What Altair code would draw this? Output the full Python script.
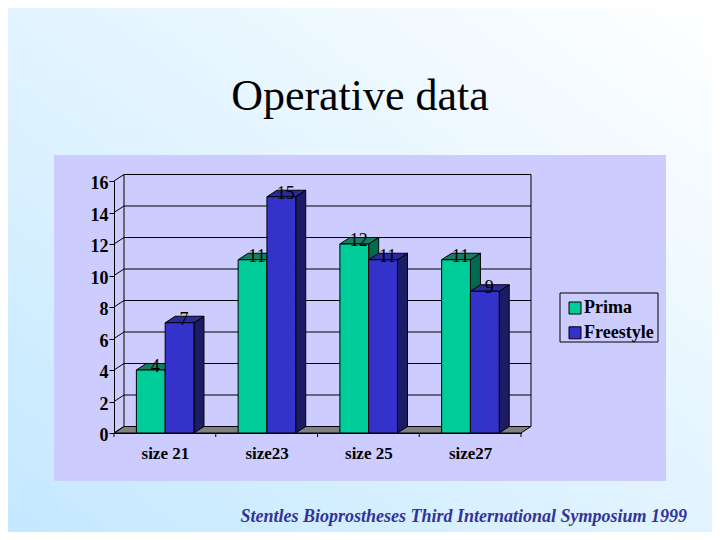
import altair as alt
import pandas as pd

categories = ["size 21", "size23", "size 25", "size27"]
prima = [4, 11, 12, 11]
freestyle = [7, 15, 11, 9]
series_names = ["Prima", "Freestyle"]
series_colors = ["#00CC99", "#3333CC"]
side_colors = {"Prima": "#006B50", "Freestyle": "#1C1C66"}
top_colors = {"Prima": "#128060", "Freestyle": "#2A2A99"}
y_ticks = [0, 2, 4, 6, 8, 10, 12, 14, 16]
x_edges = [0, 1, 2, 3, 4]
title_text = ["Operative data"]
footer_text = ["Stentles Bioprostheses Third International Symposium 1999"]

W, H = 407, 252
UX, UY = W / 4, H / 16          # pixels per data unit
DX, DY = 10 / UX, 6.5 / UY      # depth of the 3D effect in data units
BW = 28.8 / UX
SERIF = "Liberation Serif"

X = alt.Scale(domain=[0, 4], range=[0, W])
Y = alt.Scale(domain=[0, 16], range=[H, 0])
x_axis = alt.Axis(values=[0.5, 1.5, 2.5, 3.5], title=None, ticks=False, grid=False,
                  labelExpr="['size 21','size23','size 25','size27'][floor(datum.value)]",
                  labelFont=SERIF, labelFontSize=17, labelFontWeight="bold", labelColor="black",
                  labelPadding=12, labelAngle=0, domainColor="black", domainWidth=1, zindex=1)
y_axis = alt.Axis(values=y_ticks, title=None, grid=False, tickColor="black", tickSize=5, tickWidth=1,
                  labelFont=SERIF, labelFontSize=18, labelFontWeight="bold", labelColor="black",
                  labelPadding=1, labelOffset=2.5, domainColor="black", domainWidth=1, zindex=1)
xq = alt.X("x:Q", scale=X, axis=x_axis)
yq = alt.Y("y:Q", scale=Y, axis=y_axis)
x2q = alt.X2("x2:Q")
y2q = alt.Y2("y2:Q")

# ---- data frames built from the lists
fronts, sides, tops, labels = [], [], [], []
for s, (name, vals) in enumerate(zip(series_names, [prima, freestyle])):
    for i, v in enumerate(vals):
        x0 = i + 0.503 - BW + s * BW
        bid = f"{name}{i}"
        fronts.append({"series": name, "x": x0, "x2": x0 + BW, "y": v, "y2": 0})
        e = x0 + BW
        sides += [{"series": name, "bar": bid, "x": e, "y": v, "y2": 0},
                  {"series": name, "bar": bid, "x": e + DX, "y": v + DY, "y2": DY}]
        tops += [{"series": name, "bar": bid, "x": x0, "y": v, "y2": v},
                 {"series": name, "bar": bid, "x": x0 + DX, "y": v + DY, "y2": v},
                 {"series": name, "bar": bid, "x": e, "y": v + DY, "y2": v},
                 {"series": name, "bar": bid, "x": e + DX, "y": v + DY, "y2": v + DY}]
        labels.append({"x": x0 + BW / 2 + DX / 2 - 0.5 / UX, "y": v + 2.8 / UY, "t": str(v)})
fronts, sides, tops, labels = map(pd.DataFrame, (fronts, sides, tops, labels))

grid = []
for v in y_ticks:
    grid += [{"g": v, "x": 0, "y": v}, {"g": v, "x": DX, "y": v + DY}, {"g": v, "x": 4 + DX, "y": v + DY}]
for k, xx in enumerate([DX, 4 + DX]):
    grid += [{"g": 100 + k, "x": xx, "y": DY}, {"g": 100 + k, "x": xx, "y": 16 + DY}]
grid = pd.DataFrame(grid)

floor = pd.DataFrame([{"x": 0, "y": 0, "y2": 0}, {"x": DX, "y": DY, "y2": 0},
                      {"x": 4, "y": DY, "y2": 0}, {"x": 4 + DX, "y": DY, "y2": DY}])
ticks = pd.DataFrame({"x": x_edges, "y": 0, "y2": -4 / UY})
one = pd.DataFrame({"a": [0]})

# ---- page background and lilac panel
bg = alt.Chart(one).mark_rect(
    color=alt.LinearGradient(gradient="linear", x1=0, y1=1, x2=1, y2=0,
                             stops=[alt.GradientStop(color="#C4E8FF", offset=0),
                                    alt.GradientStop(color="#FFFFFF", offset=1)])
).encode(x=alt.value(-106), x2=alt.value(598), y=alt.value(-173), y2=alt.value(351))
panel = alt.Chart(one).mark_rect(color="#CCCCFF").encode(
    x=alt.value(-60), x2=alt.value(552), y=alt.value(-26), y2=alt.value(300))
legend_box = alt.Chart(one).mark_rect(fill="#CCCCFF", stroke="black", strokeWidth=1).encode(
    x=alt.value(446), x2=alt.value(544), y=alt.value(112), y2=alt.value(161))

floor_l = alt.Chart(floor).mark_area(color="#808080", stroke="black", strokeWidth=1, opacity=1).encode(
    x=xq, y=yq, y2=y2q)
grid_l = alt.Chart(grid).mark_line(color="black", strokeWidth=1).encode(
    x=xq, y=yq, detail="g:N", order="x:Q")
ticks_l = alt.Chart(ticks).mark_rule(color="black", strokeWidth=1).encode(x=xq, y=yq, y2=y2q)

color = alt.Color("series:N", scale=alt.Scale(domain=series_names, range=series_colors),
                  legend=alt.Legend(orient="none", legendX=452, legendY=118, title=None, padding=0,
                                    symbolType="square", symbolSize=144, symbolStrokeColor="black",
                                    symbolStrokeWidth=1, symbolOpacity=1,
                                    labelFont=SERIF, labelFontSize=18, labelFontWeight="bold",
                                    labelColor="black", labelOffset=0, rowPadding=6.8))

bars = []
for name in series_names:
    sd = sides[sides.series == name]
    tp = tops[tops.series == name]
    fr = fronts[fronts.series == name]
    bars.append(alt.Chart(sd).mark_area(color=side_colors[name], stroke="black", strokeWidth=1, opacity=1)
                .encode(x=xq, y=yq, y2=y2q, detail="bar:N"))
    bars.append(alt.Chart(tp).mark_area(color=top_colors[name], stroke="black", strokeWidth=1, opacity=1)
                .encode(x=xq, y=yq, y2=y2q, detail="bar:N"))
    bars.append(alt.Chart(fr).mark_rect(stroke="black", strokeWidth=1, opacity=1)
                .encode(x=xq, x2=x2q, y=yq, y2=y2q, color=color))

label_l = alt.Chart(labels).mark_text(font=SERIF, fontSize=18, color="black", baseline="middle").encode(
    x=xq, y=yq, text="t:N")

title_l = alt.Chart(pd.DataFrame({"t": title_text})).mark_text(
    font=SERIF, fontSize=44, color="black", align="center", baseline="alphabetic"
).encode(x=alt.value(246), y=alt.value(-71), text="t:N")
footer_l = alt.Chart(pd.DataFrame({"t": footer_text})).mark_text(
    font=SERIF, fontSize=18, fontStyle="italic", fontWeight="bold", color="#333399",
    align="right", baseline="alphabetic"
).encode(x=alt.value(573), y=alt.value(341), text="t:N")

chart = alt.layer(bg, panel, legend_box, title_l, footer_l, floor_l, grid_l, ticks_l, *bars, label_l).properties(
    width=W, height=H,
    padding={"left": 106, "top": 173, "right": 191, "bottom": 99},
    autosize=alt.AutoSizeParams(type="none", contains="content"),
).configure_view(stroke=None)

chart.save("out.html", embed_options={"renderer": "svg", "actions": False})
